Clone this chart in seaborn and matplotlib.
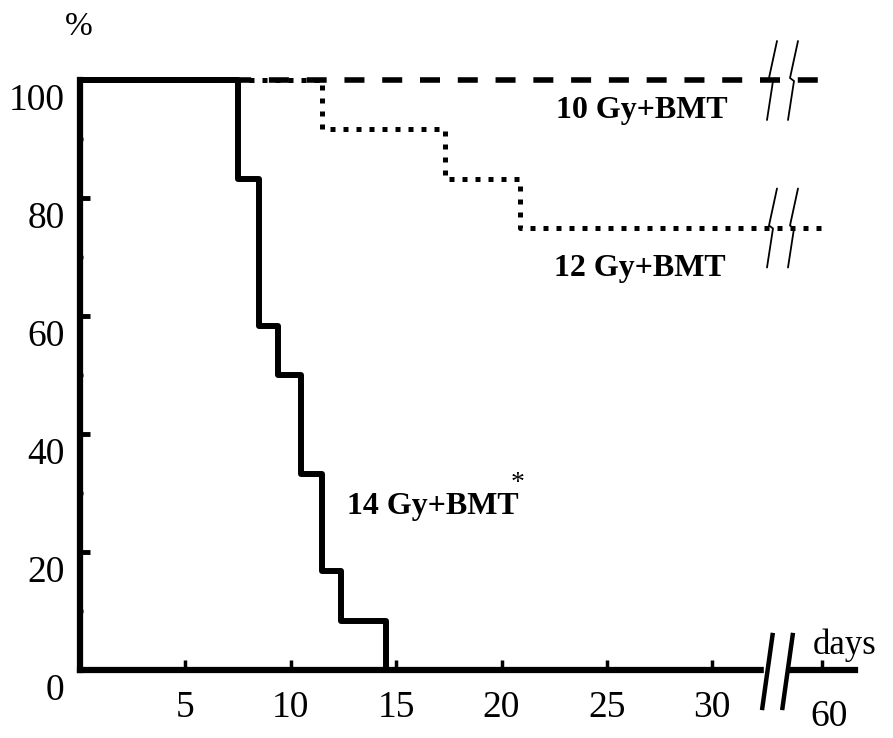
import numpy as np
import pandas as pd
import seaborn as sns
import matplotlib.pyplot as plt
import matplotlib.transforms as mtransforms
from matplotlib.patches import Rectangle

# survival curves (days, % surviving)
days_10gy = [0, 60]
surv_10gy = [100, 100]
days_12gy = [0, 11.5, 17.3, 20.9, 60]
surv_12gy = [100, 91.7, 83.3, 75.0, 75.0]
days_14gy = [0, 7.5, 8.5, 9.4, 10.5, 11.5, 12.4, 14.5]
surv_14gy = [100, 83.3, 58.3, 50.0, 33.3, 16.7, 8.3, 0]

x_ticks = [5, 10, 15, 20, 25, 30, 60]
x_ticklabels = ["5", "10", "15", "20", "25", "30", "60"]
y_ticks = [0, 20, 40, 60, 80, 100]
y_ticklabels = ["0", "20", "40", "60", "80", "100"]

# axis break: days beyond BREAK are squeezed
BREAK = 32.5
SQUEEZE = 0.0982


def forward(x):
    x = np.asarray(x, dtype=float)
    return np.where(x <= BREAK, x, BREAK + (x - BREAK) * SQUEEZE)


def inverse(x):
    x = np.asarray(x, dtype=float)
    return np.where(x <= BREAK, x, BREAK + (x - BREAK) / SQUEEZE)


def bolt(ax, y_level, x_frac):
    # little lightning-type break mark across a curve
    dx = np.array([0, -8, -4, -10]) / 775
    dy = np.array([-39, -2, 1, 40]) / 5.9
    ax.plot(x_frac + dx, y_level - dy, color="black", lw=1.3,
            transform=ax.get_yaxis_transform(), clip_on=False, zorder=6)


sns.set_style("ticks")
plt.rcParams["font.family"] = ["Liberation Serif", "DejaVu Serif"]
plt.rcParams["text.color"] = "black"

fig = plt.figure(figsize=(8.93, 7.38), dpi=100)
ax = fig.add_axes([80 / 893, 68 / 738, 775 / 893, 590 / 738])
ax.set_xscale("function", functions=(forward, inverse))

curves = [
    (days_12gy, surv_12gy, (0, (1.0, 1.6)), 3.6),
    (days_10gy, surv_10gy, (0, (3.6, 3.2)), 4.0),
    (days_14gy, surv_14gy, "-", 4.3),
]
for d, s, ls, lw in curves:
    df = pd.DataFrame({"day": d, "surv": s})
    sns.lineplot(data=df, x="day", y="surv", ax=ax, estimator=None, sort=False,
                 drawstyle="steps-post", color="black", linestyle=ls, lw=lw,
                 dash_capstyle="butt", solid_capstyle="butt", clip_on=False)

ax.set_xlim(0, 76)
ax.set_ylim(0, 100)
ax.set_xlabel("")
ax.set_ylabel("")

ax.set_xticks(x_ticks)
ax.set_xticklabels(x_ticklabels)
ax.set_xticks(np.arange(2.5, 30, 5), minor=True)
ax.set_yticks(y_ticks)
ax.set_yticklabels(y_ticklabels)
ax.set_yticks(np.arange(10, 100, 20), minor=True)

for side in ["top", "right"]:
    ax.spines[side].set_visible(False)
for side in ["left", "bottom"]:
    ax.spines[side].set_linewidth(4.5)
    ax.spines[side].set_color("black")

ax.tick_params(axis="both", which="both", direction="in", bottom=True,
               left=True, top=False, right=False, colors="black",
               labelcolor="black")
ax.tick_params(axis="both", which="major", labelsize=27)
ax.tick_params(axis="x", which="major", length=7, width=2.5, pad=15)
ax.tick_params(axis="y", which="major", length=7, width=3.5, pad=11)
ax.tick_params(axis="both", which="minor", length=2.2, width=2.5)

# y labels sit a little below their ticks
shift = mtransforms.ScaledTranslation(0, -0.17, fig.dpi_scale_trans)
for lab in ax.get_yticklabels():
    lab.set_transform(lab.get_transform() + shift)
last = ax.get_xticklabels()[-1]
last.set_transform(last.get_transform() +
                   mtransforms.ScaledTranslation(0.07, -0.09, fig.dpi_scale_trans))

# break on the x axis
ax.add_patch(Rectangle((0.8826, -0.013), 0.0284, 0.026, transform=ax.transAxes,
                       color="white", clip_on=False, zorder=5))
for x0 in [0.880, 0.906]:
    ax.plot([x0, x0 + 0.014], [-0.068, 0.063], color="black", lw=3.2,
            transform=ax.transAxes, clip_on=False, zorder=6,
            solid_capstyle="butt")

# break marks on the plateau curves
for y_level in [100, 75]:
    bolt(ax, y_level, (777 - 80) / 775)
    bolt(ax, y_level, (798 - 80) / 775)

# curve labels
ax.text(22.6, 94.8, "10 Gy+BMT", fontsize=23, fontweight="bold", va="center")
ax.text(22.5, 68.0, "12 Gy+BMT", fontsize=23, fontweight="bold", va="center")
ax.text(12.65, 27.7, "14 Gy+BMT", fontsize=23, fontweight="bold", va="center")
ax.text(20.45, 31.6, "*", fontsize=20, va="center")

ax.text(-0.001, 1.091, "%", fontsize=24, ha="center", va="center",
        transform=ax.transAxes)
ax.text(0.946, 0.042, "days", fontsize=25, ha="left", va="center",
        transform=ax.transAxes)

fig.savefig("out.png", dpi=100)
